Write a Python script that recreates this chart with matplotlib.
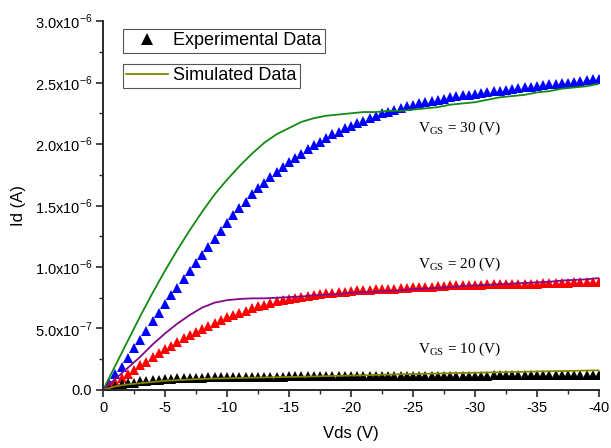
import matplotlib
matplotlib.use("Agg")
import matplotlib.pyplot as plt
import numpy as np
from matplotlib.lines import Line2D
from matplotlib.ticker import FixedLocator, FixedFormatter, MultipleLocator

plt.rcParams["font.family"] = ["Liberation Sans", "DejaVu Sans"]
plt.rcParams["mathtext.fontset"] = "custom"
plt.rcParams["mathtext.rm"] = "Liberation Sans"
plt.rcParams["axes.unicode_minus"] = False

# measured drain current (units of 1e-7 A), Vds = 0 ... -40 V in 0.5 V steps
vds_exp = np.arange(0, -40.5, -0.5)
id_exp_30 = [
    0.0, 0.6, 1.3, 1.9, 2.6, 3.4, 4.1, 4.8, 5.6, 6.3, 7.0,
    7.7, 8.3, 9.0, 9.7, 10.3, 11.0, 11.6, 12.3, 12.9, 13.6,
    14.2, 14.8, 15.3, 15.9, 16.4, 16.8, 17.3, 17.7, 18.1, 18.5,
    18.9, 19.2, 19.6, 19.9, 20.2, 20.5, 20.8, 21.0, 21.3, 21.5,
    21.7, 21.9, 22.1, 22.3, 22.5, 22.6, 22.8, 22.9, 23.1, 23.2,
    23.3, 23.4, 23.5, 23.6, 23.7, 23.8, 23.9, 23.95, 24.0, 24.1,
    24.15, 24.2, 24.3, 24.35, 24.4, 24.5, 24.55, 24.6, 24.65, 24.7,
    24.8, 24.85, 24.9, 24.95, 25.0, 25.05, 25.1, 25.2, 25.25, 25.3,
]
id_exp_20 = [
    0.0, 0.3, 0.65, 1.0, 1.3, 1.6, 2.0, 2.3, 2.65, 3.0, 3.3,
    3.6, 3.9, 4.2, 4.45, 4.7, 4.95, 5.2, 5.45, 5.7, 5.9,
    6.1, 6.3, 6.45, 6.65, 6.8, 6.95, 7.05, 7.2, 7.3, 7.4,
    7.5, 7.6, 7.65, 7.75, 7.8, 7.85, 7.9, 7.95, 8.0, 8.05,
    8.1, 8.1, 8.15, 8.2, 8.2, 8.25, 8.25, 8.3, 8.3, 8.35,
    8.35, 8.4, 8.4, 8.45, 8.45, 8.5, 8.5, 8.5, 8.55, 8.55,
    8.55, 8.6, 8.6, 8.6, 8.6, 8.65, 8.65, 8.65, 8.65, 8.65,
    8.7, 8.7, 8.7, 8.7, 8.7, 8.75, 8.75, 8.75, 8.75, 8.75,
]
id_exp_10 = [
    0.0, 0.2, 0.35, 0.45, 0.55, 0.6, 0.7, 0.75, 0.8, 0.85, 0.9,
    0.92, 0.95, 0.97, 0.98, 1.0, 1.01, 1.02, 1.03, 1.04, 1.05,
    1.05, 1.06, 1.06, 1.07, 1.07, 1.08, 1.08, 1.09, 1.09, 1.1,
    1.1, 1.1, 1.1, 1.11, 1.11, 1.11, 1.11, 1.12, 1.12, 1.12,
    1.12, 1.13, 1.13, 1.13, 1.13, 1.14, 1.14, 1.14, 1.14, 1.15,
    1.15, 1.15, 1.15, 1.16, 1.16, 1.16, 1.16, 1.17, 1.17, 1.17,
    1.17, 1.17, 1.18, 1.18, 1.18, 1.18, 1.19, 1.19, 1.19, 1.2,
    1.2, 1.2, 1.2, 1.2, 1.2, 1.2, 1.2, 1.2, 1.2, 1.2,
]

# simulated drain current (units of 1e-7 A), 1 V steps
vds_sim = np.arange(0, -41, -1)
id_sim_30 = [
    0.0, 2.0, 4.0, 6.0, 7.9, 9.7, 11.4, 13.0, 14.5, 15.9, 17.1,
    18.2, 19.2, 20.1, 20.8, 21.3, 21.8, 22.1, 22.3, 22.4, 22.5,
    22.6, 22.6, 22.7, 22.7, 22.8, 22.9, 23.0, 23.2, 23.3, 23.4,
    23.6, 23.8, 23.9, 24.0, 24.2, 24.3, 24.5, 24.6, 24.7, 24.9,
]
id_sim_20 = [
    0.0, 0.9, 1.8, 2.7, 3.7, 4.6, 5.4, 6.1, 6.7, 7.1, 7.3,
    7.4, 7.45, 7.45, 7.5, 7.55, 7.6, 7.7, 7.75, 7.8, 7.9,
    7.95, 8.0, 8.05, 8.1, 8.2, 8.25, 8.3, 8.35, 8.45, 8.5,
    8.55, 8.6, 8.65, 8.7, 8.75, 8.8, 8.9, 8.95, 9.0, 9.1,
]
id_sim_10 = [
    0.0, 0.3, 0.45, 0.55, 0.65, 0.75, 0.8, 0.85, 0.9, 0.93, 0.95,
    0.98, 1.0, 1.02, 1.04, 1.06, 1.08, 1.1, 1.13, 1.15, 1.18,
    1.2, 1.23, 1.25, 1.28, 1.3, 1.32, 1.34, 1.36, 1.38, 1.4,
    1.42, 1.44, 1.46, 1.48, 1.5, 1.52, 1.54, 1.56, 1.58, 1.6,
]

y_ticks = [0.0, 0.5e-6, 1.0e-6, 1.5e-6, 2.0e-6, 2.5e-6, 3.0e-6]
y_tick_labels = [
    "0.0",
    r"5.0x10$^{\mathregular{-7}}$",
    r"1.0x10$^{\mathregular{-6}}$",
    r"1.5x10$^{\mathregular{-6}}$",
    r"2.0x10$^{\mathregular{-6}}$",
    r"2.5x10$^{\mathregular{-6}}$",
    r"3.0x10$^{\mathregular{-6}}$",
]
vgs_labels = ["30", "20", "10"]
vgs_label_y = [2.13e-6, 1.02e-6, 0.33e-6]

scale = 1e-7
fig = plt.figure(figsize=(6.11, 4.48), dpi=100)
ax = fig.add_axes([0.1686, 0.1295, 0.8118, 0.8235])

exp_sets = [(id_exp_30, "#0000ff"), (id_exp_20, "#ff0000"), (id_exp_10, "#000000")]
for vals, col in exp_sets:
    ax.plot(vds_exp, np.array(vals) * scale, linestyle="none", marker="^",
            markersize=7.2, markeredgewidth=0, color=col)

sim_sets = [(id_sim_30, "#138a13"), (id_sim_20, "#800a8a"), (id_sim_10, "#858500")]
for vals, col in sim_sets:
    ax.plot(vds_sim, np.array(vals) * scale, color=col, linewidth=1.3)

for lab, yv in zip(vgs_labels, vgs_label_y):
    ax.text(-25.4, yv, r"V$_{\mathregular{GS}}$ = " + lab + " (V)",
            family=["Liberation Serif"], fontsize=11, va="center", ha="left")

ax.set_xlim(0, -40)
ax.set_ylim(0, 3.0e-6)
ax.xaxis.set_major_locator(MultipleLocator(5))
ax.xaxis.set_minor_locator(MultipleLocator(2.5))
ax.yaxis.set_major_locator(FixedLocator(y_ticks))
ax.yaxis.set_major_formatter(FixedFormatter(y_tick_labels))
ax.yaxis.set_minor_locator(MultipleLocator(0.25e-6))

for side in ["top", "right"]:
    ax.spines[side].set_visible(False)
for side in ["left", "bottom"]:
    ax.spines[side].set_linewidth(1.4)
    ax.spines[side].set_color("#2a2a2a")
ax.tick_params(which="major", direction="out", length=5, width=1.2,
               color="#2a2a2a", labelsize=10.5, pad=3)
ax.tick_params(which="minor", direction="out", length=3, width=1.0, color="#2a2a2a")

ax.set_xlabel("Vds (V)", fontsize=12, labelpad=8)
ax.set_ylabel("Id (A)", fontsize=12, labelpad=6)

leg_kw = dict(loc="upper left", fontsize=13, fancybox=False, framealpha=1,
              edgecolor="#555555", borderpad=0.18, handletextpad=0.3,
              handlelength=2.3, borderaxespad=0)
exp_handle = Line2D([], [], linestyle="none", marker="^", markersize=8,
                    markeredgewidth=0, color="black")
leg1 = ax.legend([exp_handle], ["Experimental Data"],
                 bbox_to_anchor=(0.040, 0.978), **leg_kw)
leg1.get_frame().set_linewidth(0.8)
ax.add_artist(leg1)
sim_handle = Line2D([], [], color="#858500", linewidth=1.3)
leg2 = ax.legend([sim_handle], ["Simulated Data"],
                 bbox_to_anchor=(0.040, 0.883), **leg_kw)
leg2.get_frame().set_linewidth(0.8)

fig.savefig("out.png", dpi=100)
